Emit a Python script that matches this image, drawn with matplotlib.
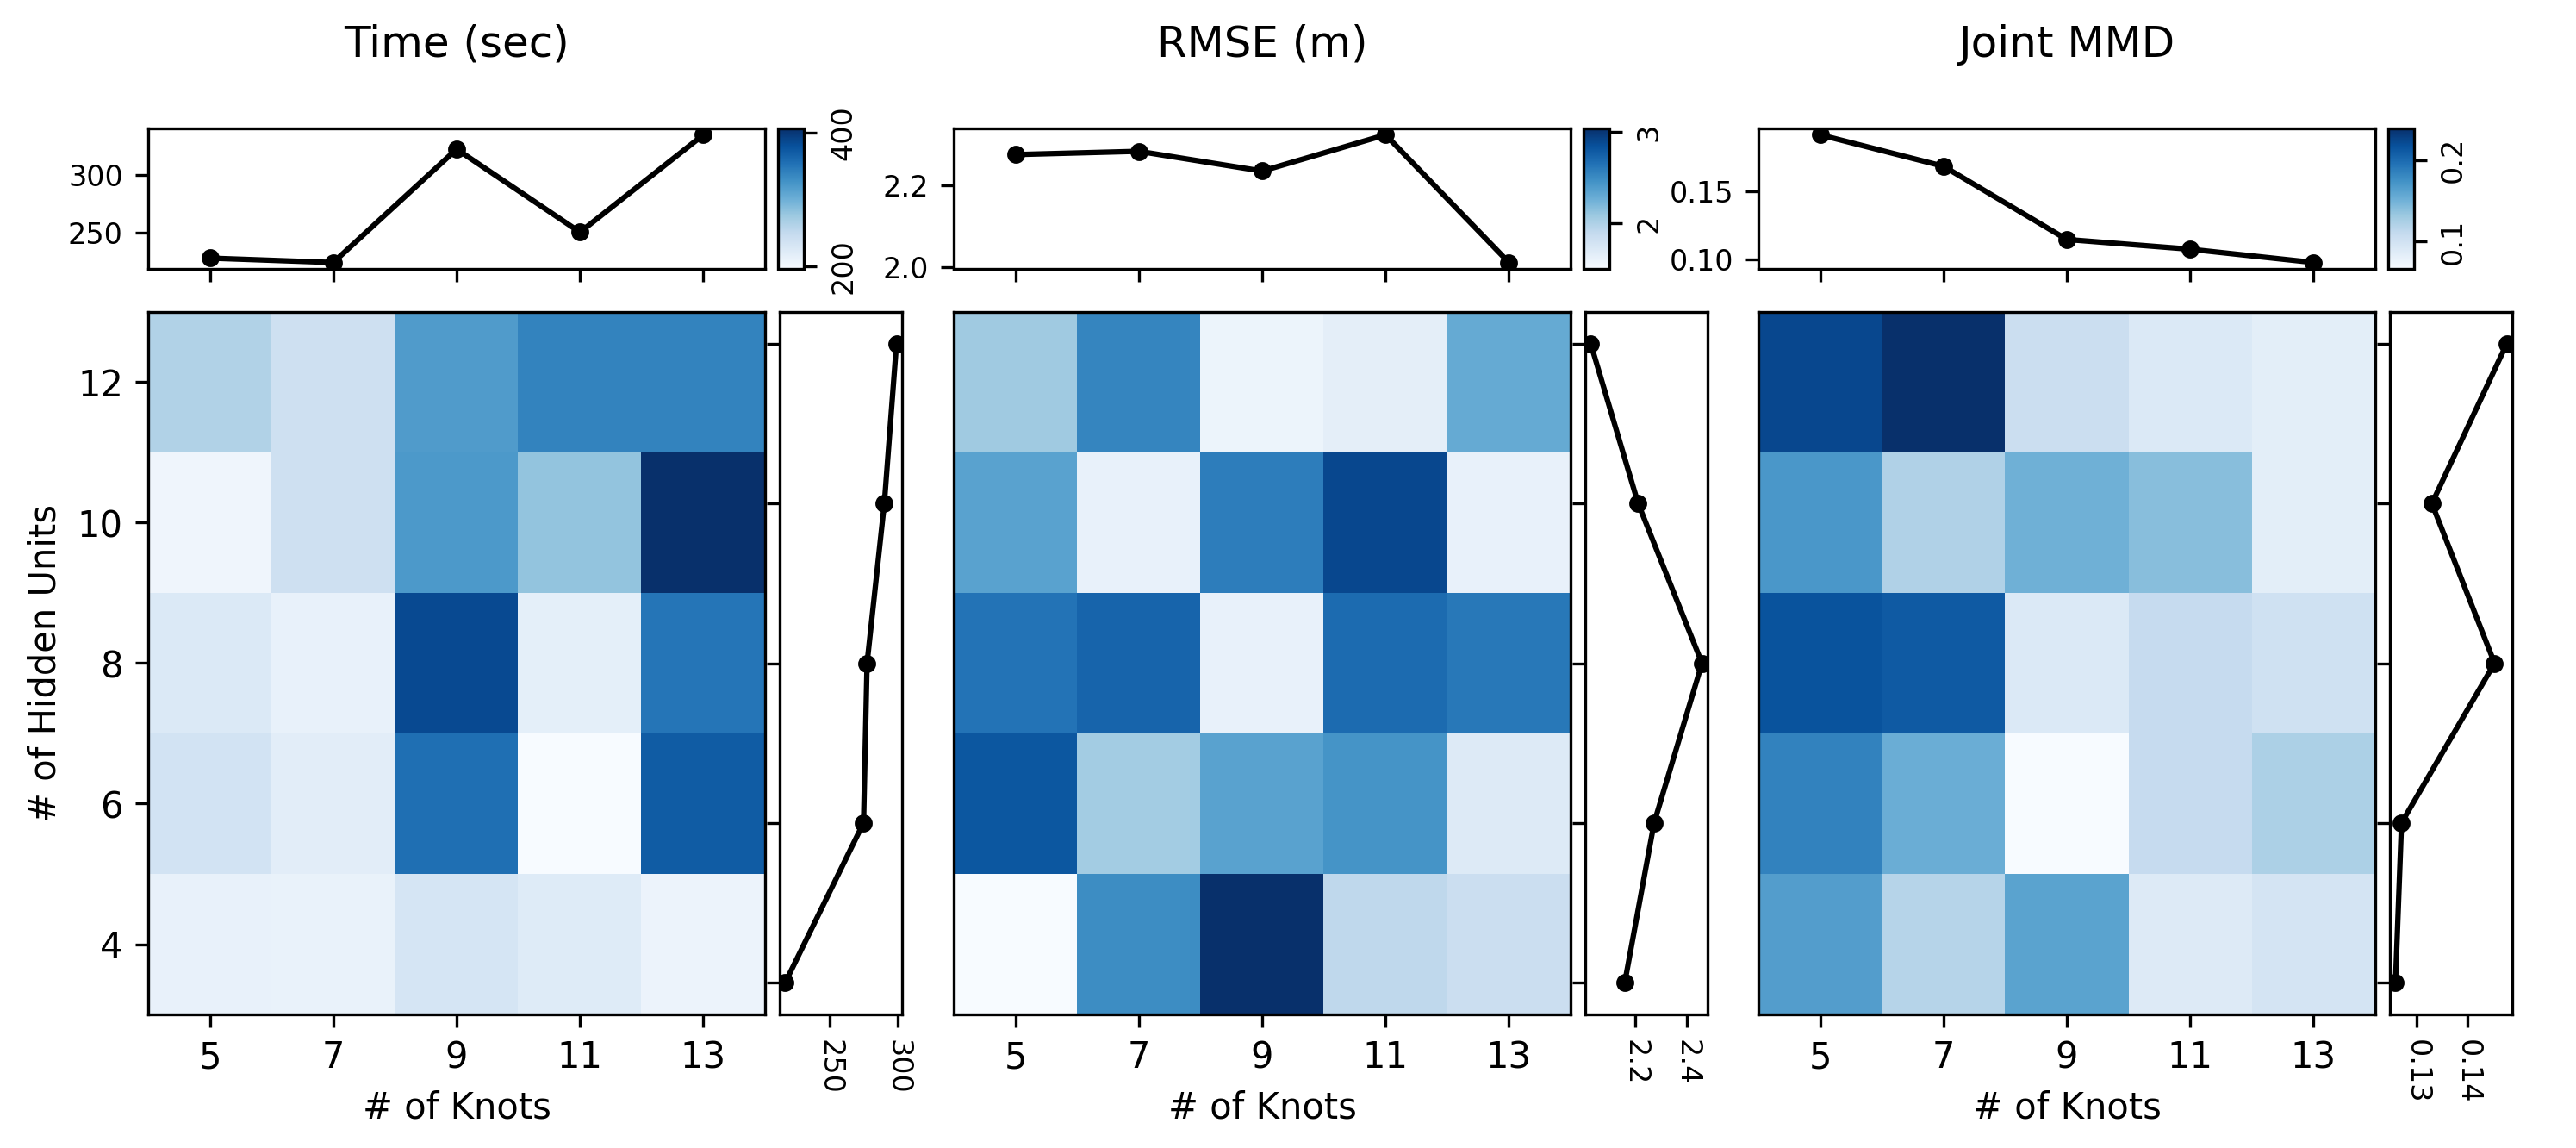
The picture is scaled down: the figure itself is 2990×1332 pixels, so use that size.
import numpy as np
import matplotlib
matplotlib.use("Agg")
import matplotlib.pyplot as plt

knots = [5, 7, 9, 11, 13]
hidden_units = [4, 6, 8, 10, 12]

# rows: hidden units 4..12, columns: knots 5..13
time_sec = np.array([
    [212, 210, 232, 222, 208],
    [235, 218, 355, 196, 370],
    [225, 212, 385, 215, 350],
    [205, 240, 320, 280, 406],
    [262, 240, 318, 338, 338],
])
rmse_m = np.array([
    [1.50, 2.49, 3.04, 1.92, 1.84],
    [2.81, 2.05, 2.35, 2.45, 1.70],
    [2.64, 2.73, 1.62, 2.69, 2.61],
    [2.35, 1.61, 2.58, 2.90, 1.61],
    [2.07, 2.53, 1.58, 1.65, 2.30],
])
joint_mmd = np.array([
    [0.165, 0.118, 0.161, 0.088, 0.097],
    [0.184, 0.153, 0.066, 0.109, 0.123],
    [0.216, 0.211, 0.090, 0.109, 0.101],
    [0.170, 0.121, 0.151, 0.140, 0.083],
    [0.223, 0.239, 0.104, 0.090, 0.083],
])

titles = ["Time (sec)", "RMSE (m)", "Joint MMD"]
top_yticks = [[250, 300], [2.0, 2.2], [0.10, 0.15]]
right_xticks = [[250, 300], [2.2, 2.4], [0.13, 0.14]]
cbar_ticks = [[200, 400], [2, 3], [0.1, 0.2]]

W, H = 2990, 1332
fig = plt.figure(figsize=(W / 300, H / 300), dpi=300)


def box(x0, y0, x1, y1):
    """pixel box (top-left origin) -> figure fraction rect"""
    return [x0 / W, 1 - y1 / H, (x1 - x0) / W, (y1 - y0) / H]


heat_left = [172, 1107, 2041]
heat_w = 716
small = 8

for i, data in enumerate([time_sec, rmse_m, joint_mmd]):
    x0 = heat_left[i]
    x1 = x0 + heat_w
    ax = fig.add_axes(box(x0, 362, x1, 1177))
    ax_top = fig.add_axes(box(x0, 149, x1, 312))
    ax_right = fig.add_axes(box(x1 + 17, 362, x1 + 159, 1177))
    cax = fig.add_axes(box(x1 + 15, 149, x1 + 45, 312))

    im = ax.imshow(data, cmap="Blues", origin="lower", aspect="auto",
                   extent=[4, 14, 3, 13])
    ax.set_xticks(knots)
    ax.tick_params(labelsize=10)
    ax.set_xlabel("# of Knots", fontsize=10)
    if i == 0:
        ax.set_yticks(hidden_units)
        ax.set_ylabel("# of Hidden Units", fontsize=10)
    else:
        ax.set_yticks([])

    ax_top.plot(knots, data.mean(axis=0), color="k", marker="o", lw=1.5, ms=4)
    ax_top.set_xlim(4, 14)
    ax_top.set_xticks(knots)
    ax_top.set_xticklabels([])
    ax_top.set_yticks(top_yticks[i])
    ax_top.tick_params(labelsize=small)
    fig.text((x0 + heat_w / 2) / W, 1 - 52 / H, titles[i], fontsize=12,
             ha="center", va="center")

    ax_right.plot(data.mean(axis=1), hidden_units, color="k", marker="o", lw=1.5, ms=4)
    ax_right.set_yticks(hidden_units)
    ax_right.set_yticklabels([])
    ax_right.set_xticks(right_xticks[i])
    ax_right.tick_params(labelsize=small)
    for lbl in ax_right.get_xticklabels():
        lbl.set_rotation(-90)

    cb = fig.colorbar(im, cax=cax, ticks=cbar_ticks[i])
    cb.ax.tick_params(labelsize=small)
    for lbl in cb.ax.get_yticklabels():
        lbl.set_rotation(90)
        lbl.set_va("center")

fig.savefig("out.png", dpi=300)
